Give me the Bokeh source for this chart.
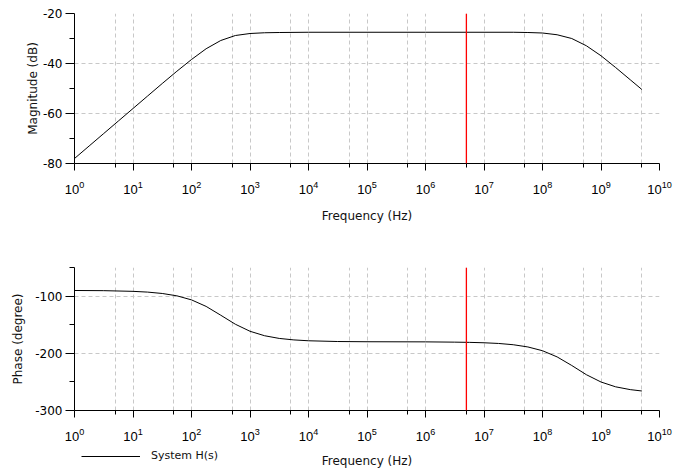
from bokeh.plotting import figure
from bokeh.layouts import column
from bokeh.models import (Range1d, FixedTicker, Span, Legend, LegendItem,
                          PrintfTickFormatter, Label)
from bokeh.embed import file_html
from bokeh.resources import INLINE

# ---------------- data ----------------
freq_mag = [1, 1.778, 3.162, 5.623, 10, 17.78, 31.62, 56.23, 100, 177.8, 316.2,
            562.3, 1000, 1778, 3162, 1e4, 1e5, 1e6, 1e7, 3.162e7, 5.623e7,
            1e8, 1.778e8, 3.162e8, 5.623e8, 1e9, 1.778e9, 3.162e9, 5e9]
mag_db = [-78.0, -73.0, -68.0, -63.0, -58.0, -53.0, -48.0, -43.1, -38.4, -34.1,
          -30.8, -28.8, -28.0, -27.7, -27.6, -27.5, -27.5, -27.5, -27.5, -27.5,
          -27.6, -27.8, -28.5, -30.0, -32.9, -36.9, -41.6, -46.5, -50.4]

freq_phase = [1, 3.162, 10, 17.78, 31.62, 56.23, 100, 177.8, 316.2, 562.3, 1000,
              1778, 3162, 5623, 1e4, 3.162e4, 1e5, 1e6, 3.162e6, 5.623e6, 1e7,
              1.778e7, 3.162e7, 5.623e7, 1e8, 1.778e8, 3.162e8, 5.623e8, 1e9,
              1.778e9, 3.162e9, 5e9]
phase_deg = [-90.2, -90.5, -91.7, -93.0, -95.4, -99.5, -106.6, -118.0, -133.4,
             -149.2, -161.5, -169.3, -174.0, -176.6, -178.1, -179.4, -179.8,
             -180.0, -180.5, -180.9, -181.6, -182.8, -185.0, -188.9, -195.5,
             -206.3, -221.3, -237.4, -250.2, -258.6, -263.5, -265.9]

marker_freq = 5e6

x_major = [1e0, 1e1, 1e2, 1e3, 1e4, 1e5, 1e6, 1e7, 1e8, 1e9, 1e10]
x_minor = [5e0, 5e1, 5e2, 5e3, 5e4, 5e5, 5e6, 5e7, 5e8, 5e9]
mag_major = [-80, -60, -40, -20]
mag_minor = [-70, -50, -30]
ph_major = [-300, -200, -100]
ph_minor = [-250, -150, -50]

x_label = "Frequency (Hz)"
mag_label = "Magnitude (dB)"
ph_label = "Phase (degree)"
series_label = "System H(s)"

GRID = "#c8c8c8"


def style(p, yticks, yminor, ylabel, ylabel_standoff):
    p.outline_line_color = None
    p.background_fill_color = "white"
    p.border_fill_color = "white"
    p.xaxis.ticker = FixedTicker(ticks=x_major, minor_ticks=x_minor)
    p.yaxis.ticker = FixedTicker(ticks=yticks, minor_ticks=yminor)
    p.yaxis.formatter = PrintfTickFormatter(format="%d")
    for ax in (p.xaxis, p.yaxis):
        ax.axis_line_color = "black"
        ax.axis_line_width = 1
        ax.major_tick_line_color = "black"
        ax.minor_tick_line_color = "black"
        ax.major_tick_in = 0
        ax.minor_tick_in = 0
        ax.major_label_text_color = "black"
        ax.axis_label_text_font = "DejaVu Sans"
        ax.axis_label_text_font_size = "12px"
        ax.axis_label_text_font_style = "normal"
        ax.axis_label_text_color = "#111111"
    p.xaxis.major_tick_out = 7
    p.xaxis.minor_tick_out = 4
    p.yaxis.major_tick_out = 9
    p.yaxis.minor_tick_out = 5
    p.xaxis.major_label_text_font = "Liberation Sans"
    p.xaxis.major_label_text_font_size = "13px"
    p.yaxis.major_label_text_font = "DejaVu Sans"
    p.yaxis.major_label_text_font_size = "12px"
    p.xaxis.major_label_standoff = 10
    p.yaxis.major_label_standoff = 3
    p.xaxis.axis_label_standoff = 12
    p.yaxis.axis_label = ylabel
    p.yaxis.axis_label_standoff = ylabel_standoff
    p.xgrid.grid_line_color = GRID
    p.xgrid.grid_line_dash = "4 3"
    p.xgrid.minor_grid_line_color = GRID
    p.xgrid.minor_grid_line_dash = "4 3"
    p.ygrid.grid_line_color = GRID
    p.ygrid.grid_line_dash = "4 3"
    p.ygrid.minor_grid_line_color = None


# ---------------- magnitude ----------------
p1 = figure(width=688, height=247, x_axis_type="log",
            x_range=Range1d(1, 1e10), y_range=Range1d(-80, -20),
            output_backend="svg", toolbar_location=None,
            min_border_left=74, min_border_right=29,
            min_border_top=13, min_border_bottom=84)
style(p1, mag_major, mag_minor, mag_label, 0)
p1.xaxis.axis_label = x_label
p1.line(freq_mag, mag_db, line_color="black", line_width=1)
p1.add_layout(Span(location=marker_freq, dimension="height",
                   line_color="red", line_width=1.3))

# ---------------- phase ----------------
p2 = figure(width=688, height=201, x_axis_type="log",
            x_range=Range1d(1, 1e10), y_range=Range1d(-300, -50),
            output_backend="svg", toolbar_location=None,
            min_border_left=74, min_border_right=29,
            min_border_top=20, min_border_bottom=38)
style(p2, ph_major, ph_minor, ph_label, 7)
p2.line(freq_phase, phase_deg, line_color="black", line_width=1)
p2.add_layout(Span(location=marker_freq, dimension="height",
                   line_color="red", line_width=1.3))

# ---------------- bottom strip: legend + x-axis title of the phase plot ----
p3 = figure(width=688, height=20, x_range=Range1d(0, 1), y_range=Range1d(0, 1),
            output_backend="svg", toolbar_location=None,
            x_axis_location=None, y_axis_location=None,
            min_border_left=74, min_border_right=29,
            min_border_top=0, min_border_bottom=0)
p3.outline_line_color = None
p3.xgrid.visible = False
p3.ygrid.visible = False
# legend key only (a NaN point draws nothing in the strip itself)
r_key = p3.line(x=[float("nan")], y=[float("nan")],
                line_color="black", line_width=1)
legend = Legend(items=[LegendItem(label=series_label, renderers=[r_key])],
                location=(7, 6), padding=0, margin=0, spacing=0,
                glyph_width=59, glyph_height=10, label_height=10,
                label_standoff=11, label_text_font="DejaVu Sans",
                label_text_font_size="11px", label_text_color="#111111",
                border_line_color=None, background_fill_alpha=0)
p3.add_layout(legend)
p3.add_layout(Label(x=0.5, y=0.4, text=x_label, text_align="center",
                    text_baseline="middle", text_font="DejaVu Sans",
                    text_font_size="12px", text_color="#111111"))

layout = column(p1, p2, p3)
open("out.html", "w").write(file_html(layout, INLINE))
